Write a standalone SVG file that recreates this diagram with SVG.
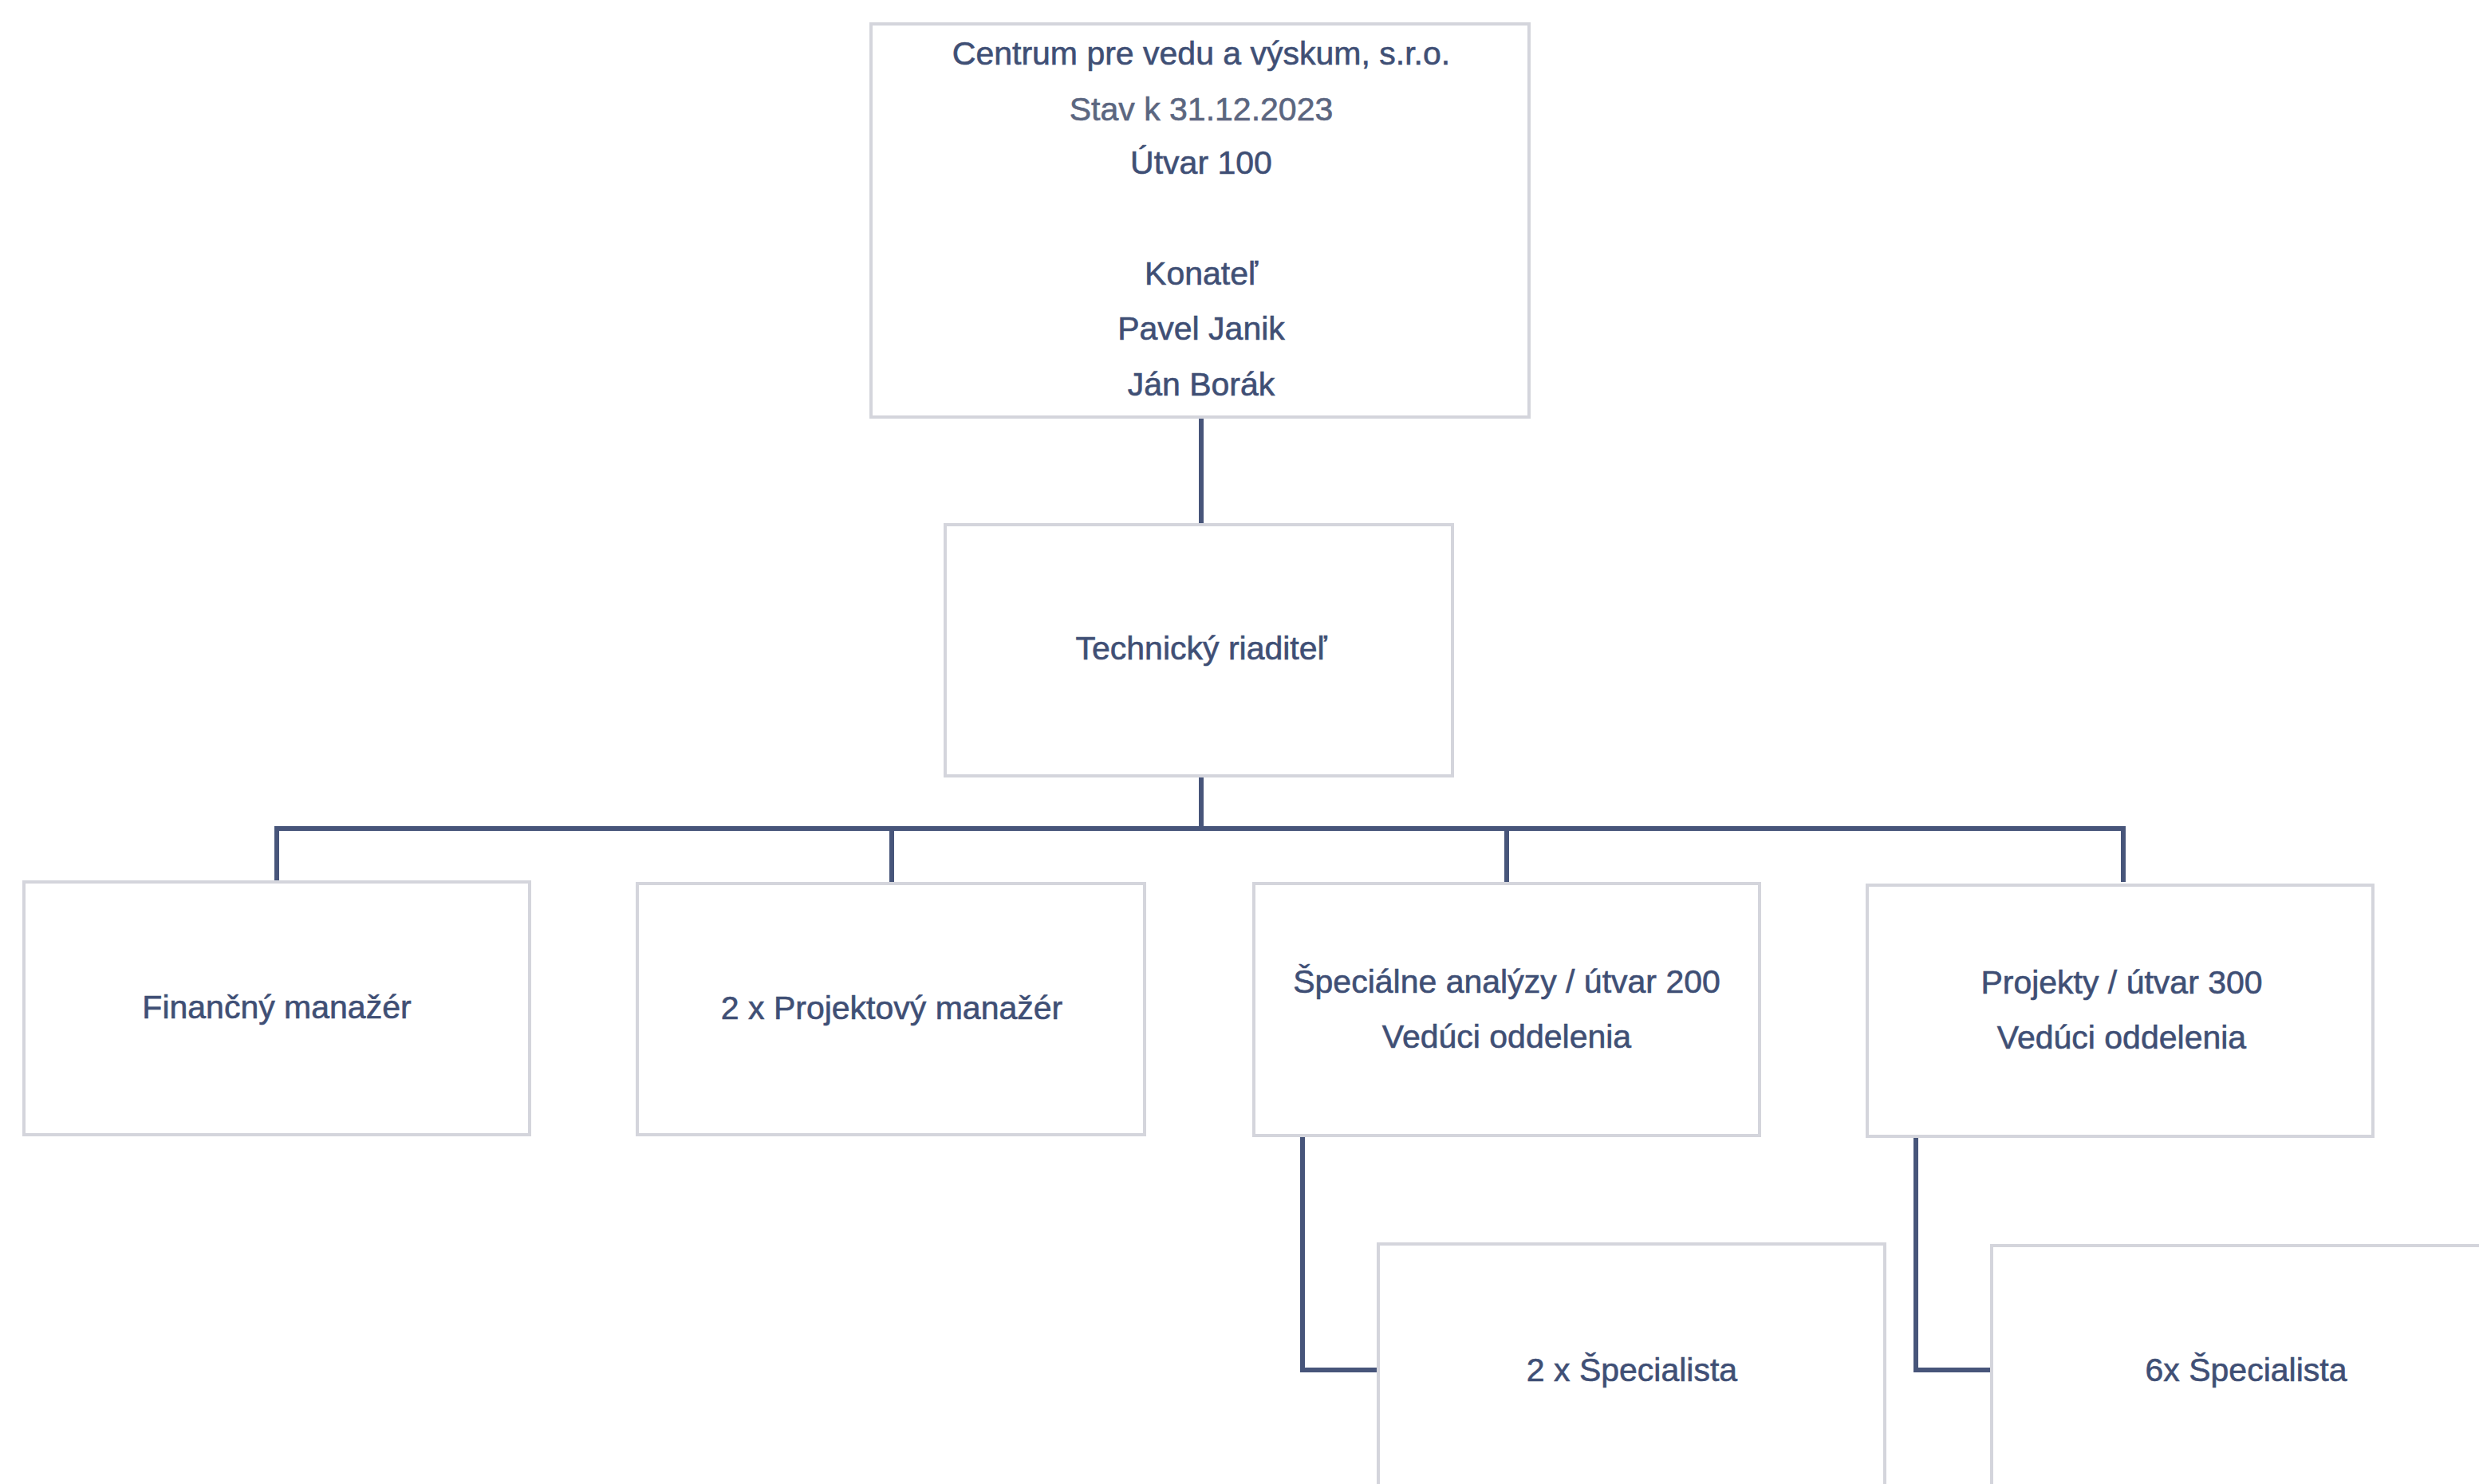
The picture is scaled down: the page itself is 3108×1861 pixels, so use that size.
<svg xmlns="http://www.w3.org/2000/svg" width="3108" height="1861" viewBox="0 0 3108 1861">
<style>
.box{fill:#ffffff;stroke:#d4d5dc;stroke-width:4}
.t{font-family:"Liberation Sans",Arial,sans-serif;font-size:41px;fill:#3f4f75;stroke:#3f4f75;stroke-width:0.6;text-anchor:middle;dominant-baseline:central}
.lt{fill:#5b6680;stroke:#5b6680}
.c{fill:none;stroke:#47557a;stroke-width:6}
</style>
<rect width="3108" height="1861" fill="#ffffff"/>
<g id="connectors">
<path class="c" d="M1506 523V658"/>
<path class="c" d="M1506 973V1039"/>
<path class="c" d="M347 1106V1039H2662V1106"/>
<path class="c" d="M1118 1039V1106"/>
<path class="c" d="M1889 1039V1106"/>
<path class="c" d="M1633 1423V1718H1728"/>
<path class="c" d="M2402 1425V1718H2497"/>
</g>
<g id="n-konatel">
<rect class="box" x="1092" y="30" width="825" height="493"/>
<text class="t" x="1506" y="67">Centrum pre vedu a výskum, s.r.o.</text>
<text class="t lt" x="1506" y="137">Stav k 31.12.2023</text>
<text class="t" x="1506" y="204">Útvar 100</text>
<text class="t" x="1506" y="343">Konateľ</text>
<text class="t" x="1506" y="412">Pavel Janik</text>
<text class="t" x="1506" y="482">Ján Borák</text>
</g>
<g id="n-tech">
<rect class="box" x="1185" y="658" width="636" height="315"/>
<text class="t" x="1506" y="813">Technický riaditeľ</text>
</g>
<g id="n-fin">
<rect class="box" x="30" y="1106" width="634" height="317"/>
<text class="t" x="347" y="1263">Finančný manažér</text>
</g>
<g id="n-proj">
<rect class="box" x="799" y="1108" width="636" height="315"/>
<text class="t" x="1118" y="1264">2 x Projektový manažér</text>
</g>
<g id="n-spec">
<rect class="box" x="1572" y="1108" width="634" height="316"/>
<text class="t" x="1889" y="1231">Špeciálne analýzy / útvar 200</text>
<text class="t" x="1889" y="1300">Vedúci oddelenia</text>
</g>
<g id="n-projekty">
<rect class="box" x="2341" y="1110" width="634" height="315"/>
<text class="t" x="2660" y="1232">Projekty / útvar 300</text>
<text class="t" x="2660" y="1301">Vedúci oddelenia</text>
</g>
<g id="n-spec2">
<rect class="box" x="1728" y="1560" width="635" height="320"/>
<text class="t" x="2046" y="1718">2 x Špecialista</text>
</g>
<g id="n-spec6">
<rect class="box" x="2497" y="1562" width="640" height="320"/>
<text class="t" x="2816" y="1718">6x Špecialista</text>
</g>
</svg>
